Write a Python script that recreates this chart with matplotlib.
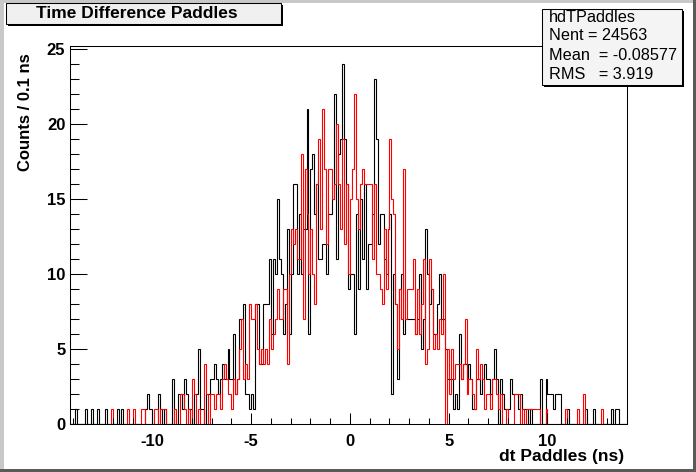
import numpy as np
import matplotlib
matplotlib.use("Agg")
import matplotlib.pyplot as plt
from matplotlib.patches import Rectangle
from matplotlib.ticker import MultipleLocator

plt.rcParams["font.family"] = ["Liberation Sans", "DejaVu Sans"]
plt.rcParams["font.weight"] = "bold"
plt.rcParams["axes.unicode_minus"] = False

# histogram binning (0.1 ns bins) and counts
x_min, x_max, bin_width = -14.2, 14.0, 0.1

black_counts = [
    0, 0, 0, 1, 0, 0, 0, 0, 1, 0, 0, 1, 0, 0, 1, 0, 0, 0, 1, 0,
    0, 0, 0, 0, 1, 0, 1, 0, 0, 0, 0, 0, 0, 0, 0, 0, 0, 0, 1, 2,
    1, 1, 0, 0, 0, 2, 1, 0,
    1, 0, 0, 0, 3, 0, 0, 2, 2, 1, 3, 2, 1, 1, 0, 2, 2, 5, 1, 1,
    0, 2, 2, 3, 3, 4, 3, 2, 3, 4, 3, 3, 5, 3, 3, 6, 2, 3, 7, 7,
    8, 2, 2, 1, 2, 1, 8, 8, 4, 4,
    8, 8, 8, 11, 6, 11, 10, 15, 11, 10, 6, 8, 13, 6, 10, 16, 16, 10, 14, 10,
    13, 13, 21, 6, 17, 18, 14, 16, 11, 11, 12, 12, 10, 14, 14, 15, 22, 11, 18, 19,
    24, 19, 16, 9, 10,
    10, 6, 14, 9, 15, 11, 16, 9, 12, 12, 14, 23, 19, 12, 14, 14, 11, 10, 13, 14,
    2, 10, 8, 3, 9, 10, 6, 7, 7, 7, 7, 7, 6, 7, 10, 5, 7, 13, 10, 8,
    9, 6, 6, 8, 10, 7, 7,
    5, 3, 3, 3, 1, 2, 1, 6, 3, 4, 4, 3, 4, 3, 1, 1, 3, 3, 2, 3,
    4, 3, 3, 2, 3, 5, 3, 0, 3, 2, 1, 1, 1, 3, 2, 2, 2, 1, 2, 1,
    1, 1, 0, 1, 0, 0,
    0, 0, 3, 0, 0, 3, 2, 2, 2, 1, 2, 2, 2, 0, 0, 0, 1, 0, 0, 0,
    0, 0, 0, 0, 0, 1, 0, 0, 0, 1, 0, 0, 0, 0, 0, 0, 0, 0, 1, 0,
    1, 1, 0, 0, 0, 0,
]

red_counts = [
    0, 0, 0, 0, 0, 0, 0, 0, 0, 0, 0, 0, 0, 0, 0, 0, 0, 0, 0, 0,
    0, 1, 0, 0, 0, 0, 0, 0, 0, 1, 0, 0, 1, 0, 0, 0, 1, 1, 0, 0,
    0, 0, 0, 1, 1, 0, 1, 1,
    1, 0, 0, 0, 0, 1, 0, 0, 2, 2, 1, 0, 1, 0, 3, 2, 0, 1, 0, 0,
    4, 2, 0, 2, 2, 1, 2, 2, 1, 3, 4, 3, 2, 2, 1, 3, 2, 3, 5, 7,
    3, 4, 3, 8, 7, 7, 8, 5, 4, 5,
    4, 5, 4, 7, 5, 6, 7, 9, 7, 7, 9, 9, 4, 10, 13, 12, 13, 11, 11, 18,
    7, 17, 14, 10, 13, 10, 8, 16, 19, 13, 21, 17, 12, 17, 17, 15, 16, 20, 16, 13,
    19, 12, 16, 10, 15,
    17, 22, 15, 13, 16, 17, 16, 16, 16, 16, 11, 16, 10, 10, 9, 8, 13, 9, 13, 19,
    15, 14, 8, 5, 9, 7, 17, 7, 9, 9, 9, 11, 6, 9, 6, 8, 11, 4, 5, 11,
    9, 5, 6, 5, 7, 6, 10,
    0, 5, 2, 5, 3, 4, 4, 4, 3, 4, 7, 2, 3, 3, 2, 1, 5, 3, 4, 3,
    1, 2, 2, 1, 3, 3, 2, 1, 2, 0, 0, 1, 0, 0, 0, 2, 2, 2, 0, 1,
    0, 1, 1, 1, 1, 1,
    1, 1, 0, 0, 0, 1, 0, 0, 0, 0, 0, 0, 0, 0, 0, 1, 0, 0, 0, 0,
    0, 1, 0, 0, 2, 0, 0, 0, 0, 0, 0, 0, 0, 1, 0, 0, 0, 0, 0, 0,
    0, 0, 0, 0, 0, 0,
]

x_ticks = [-10, -5, 0, 5, 10]
y_ticks = [0, 5, 10, 15, 20, 25]
title = "Time Difference Paddles"
stats_lines = ["hdTPaddles", "Nent = 24563", "Mean  = -0.08577", "RMS   = 3.919"]

W, H = 696, 472
fig = plt.figure(figsize=(W / 100, H / 100), dpi=100)
fig.patch.set_facecolor("white")


def fx(px):
    return px / W


def fy(py):
    return 1 - py / H


def box(x0, y0, x1, y1, **kw):
    fig.patches.append(Rectangle((fx(x0), fy(y1)), (x1 - x0) / W, (y1 - y0) / H,
                                 transform=fig.transFigure, figure=fig, **kw))


# canvas bevel
box(0, 0, W, 3, facecolor="#c8c8c8", edgecolor="none")
box(0, 0, 4, H, facecolor="#c8c8c8", edgecolor="none")
box(0, H - 3, W, H, facecolor="#5a5a5a", edgecolor="none")
box(W - 3, 0, W, H, facecolor="#5a5a5a", edgecolor="none")

ax = fig.add_axes([fx(69.5), fy(424), (626.5 - 69.5) / W, (424 - 46) / H])
edges = np.round(x_min + bin_width * np.arange(len(black_counts) + 1), 2)
ax.stairs(black_counts, edges, color="black", linewidth=0.8)
ax.stairs(red_counts, edges, color="red", linewidth=0.8)
ax.set_xlim(x_min, x_max)
ax.set_ylim(0, 25.2)

ax.set_xticks(x_ticks)
ax.set_yticks(y_ticks)
ax.xaxis.set_minor_locator(MultipleLocator(1))
ax.yaxis.set_minor_locator(MultipleLocator(1))
ax.tick_params(which="both", direction="in", top=False, right=False,
               width=0.75, labelsize=12)
ax.tick_params(axis="y", which="major", length=12.2, pad=3)
ax.tick_params(axis="y", which="minor", length=6.5)
ax.tick_params(axis="x", which="major", length=8, pad=7)
ax.tick_params(axis="x", which="minor", length=4)
for sp in ax.spines.values():
    sp.set_linewidth(0.75)

fig.text(fx(624), fy(457), "dt Paddles (ns)", ha="right", va="center",
         fontsize=12.5, fontweight="bold")
fig.text(fx(26), fy(53), "Counts / 0.1 ns", rotation=90, ha="center", va="top",
         fontsize=12, fontweight="bold")

# title box with shadow
box(8, 5, 283, 26, facecolor="black", edgecolor="none")
box(6, 3, 281, 24, facecolor="#f0f0f0", edgecolor="black", linewidth=0.75)
fig.text(fx(137), fy(14), title, ha="center", va="center",
         fontsize=12.5, fontweight="bold")

# stats box with shadow
box(544, 11, 684, 87, facecolor="black", edgecolor="none")
box(542, 9, 682, 85, facecolor="#f4f4f4", edgecolor="black", linewidth=0.75)
for line, yc in zip(stats_lines, [17, 35.5, 55, 74.5]):
    fig.text(fx(549), fy(yc), line, ha="left", va="center",
             fontsize=11.7, fontweight="normal")

fig.savefig("out.png", dpi=100)
plt.close(fig)
